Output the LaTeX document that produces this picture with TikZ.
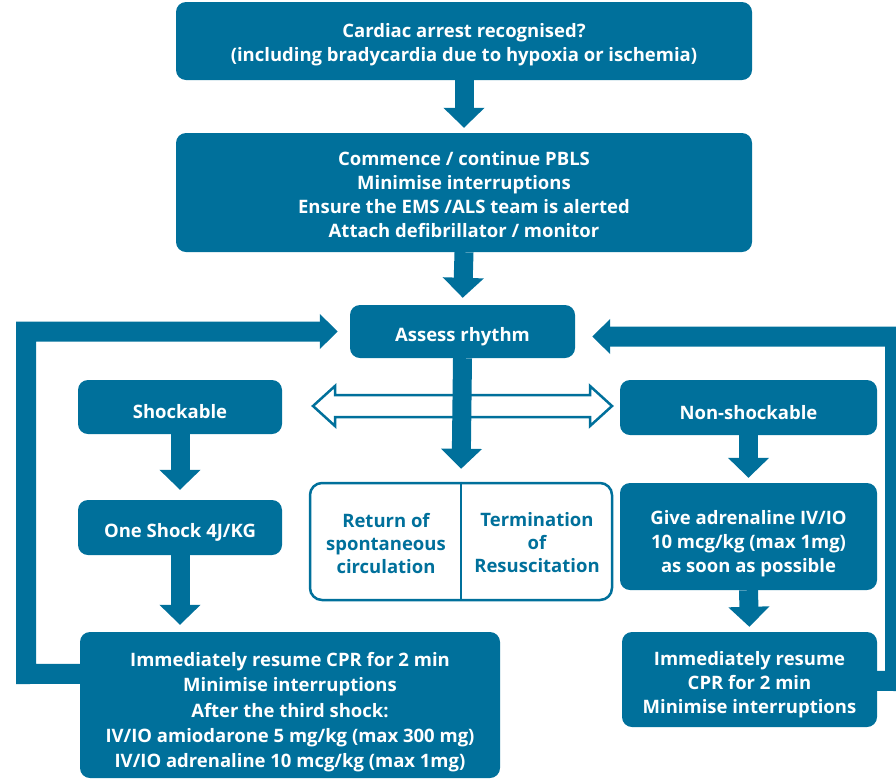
\documentclass[tikz,border=0pt]{standalone}
\usepackage{fontspec}
\setmainfont{Open Sans}
\usepackage{tikz}
\usetikzlibrary{calc,arrows.meta}
\definecolor{alsblue}{RGB}{0,112,155}
\newcommand{\boxstrut}[1]{\rule{0pt}{#1}}

\begin{document}
\begin{tikzpicture}[x=1pt,y=-1pt]
	\tikzstyle{box} = [rectangle, rounded corners=10pt, fill=alsblue, text=white, align=center, inner sep=0pt, font=\bfseries\fontsize{18.5}{24}\selectfont, execute at begin node={\rule{0pt}{24pt}}];
	\tikzstyle{outline} = [rectangle, rounded corners=12pt, draw=alsblue, line width=2.5pt, fill=white, inner sep=0pt];
	\tikzstyle{plain} = [text=alsblue, align=center, inner sep=0pt, font=\bfseries\fontsize{18.5}{23}\selectfont];
	\tikzstyle{down} = [alsblue, line width=19pt, -{Triangle[width=40pt,length=20pt]}];
	\tikzstyle{back} = [alsblue, line width=20pt, -{Triangle[width=34pt,length=18pt]}];
	
	\useasboundingbox (0,0) rectangle (896,780);
	
	\node[box, minimum width=576pt, minimum height=78pt] (arrest) at (464,41) {\boxstrut{22pt}Cardiac arrest recognised?\\(including bradycardia due to hypoxia or ischemia)};
	\node[box, minimum width=576pt, minimum height=119pt] (pbls) at (464,192.5) {\boxstrut{18pt}Commence / continue PBLS\\Minimise interruptions\\Ensure the EMS /ALS team is alerted\\Attach defibrillator / monitor};
	\node[box, minimum width=225pt, minimum height=53pt] (assess) at (462.5,331.5) {Assess rhythm};
	
	\node[box, minimum width=204pt, minimum height=54pt] (shock) at (180,407) {Shockable};
	\node[box, minimum width=204pt, minimum height=55pt] (oneshock) at (180,527.5) {One Shock 4J/KG};
	\node[box, minimum width=420pt, minimum height=146pt, font=\bfseries\fontsize{18.5}{25}\selectfont] (cprleft) at (290,705) {\boxstrut{28pt}Immediately resume CPR for 2 min\\Minimise interruptions\\[1pt]After the third shock:\\IV/IO amiodarone 5 mg/kg (max 300 mg)\\IV/IO adrenaline 10 mcg/kg (max 1mg)};
	
	\node[box, minimum width=257pt, minimum height=55pt] (nonshock) at (748.5,407.5) {Non-shockable};
	\node[box, minimum width=257pt, minimum height=107pt] (adren) at (748.5,536.5) {\boxstrut{28pt}Give adrenaline IV/IO\\10 mcg/kg (max 1mg)\\as soon as possible};
	\node[box, minimum width=255pt, minimum height=95pt] (cprright) at (749.5,679.5) {\boxstrut{24pt}Immediately resume\\CPR for 2 min\\Minimise interruptions};
	
	\node[outline, minimum width=302pt, minimum height=117pt] (outcome) at (461,541.5) {};
	\draw[alsblue, line width=2.5pt] (outcome.north) -- (outcome.south);
	\node[plain] (rosc) at (386,543) {Return of\\spontaneous\\circulation};
	\node[plain] (tor) at (537,543) {Termination\\of\\Resuscitation};
	
	% hollow two-way arrow
	\draw[alsblue, line width=2.5pt, fill=white] (313,406) -- (335,386) -- (335,395) -- (590,395) -- (590,386) -- (612,406) -- (590,426) -- (590,417) -- (335,417) -- (335,426) -- cycle;
	
	\draw[down, shorten >=5pt] (arrest.south) -- (pbls.north);
	\draw[down, shorten >=7pt] (pbls.south) -- (assess.north);
	\draw[down, shorten >=13pt] (assess.south) -- (outcome.north);
	\draw[down, shorten >=10pt] (shock.south) -- (oneshock.north);
	\draw[down, shorten >=7pt] (oneshock.south) -- (oneshock.south |- cprleft.north);
	\draw[down, shorten >=5pt] (nonshock.south) -- (adren.north);
	\draw[down, shorten >=5pt] (adren.south) -- (cprright.north);
	
	% loops back to rhythm check
	\coordinate (lbend) at (26,674);
	\coordinate (rbend) at (895,681);
	\draw[back, shorten >=12pt] ($(cprleft.north west)+(2,42)$) -- (lbend) |- (assess.west);
	\draw[back, shorten >=17pt] ($(cprright.north east)+(-2,49)$) -- (rbend) |- ($(assess.east)+(0,5)$);
\end{tikzpicture}
\end{document}
